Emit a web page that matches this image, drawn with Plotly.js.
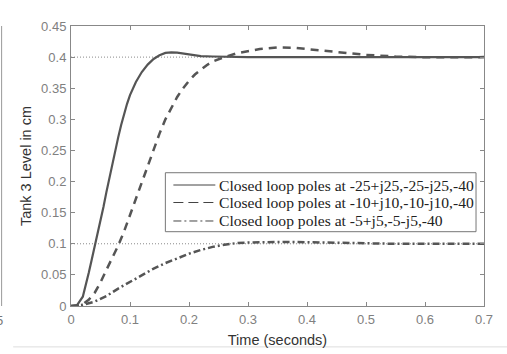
<!DOCTYPE html>
<html>
<head>
<meta charset="utf-8">
<script src="https://cdn.plot.ly/plotly-3.0.1.min.js"></script>
<style>html,body{margin:0;padding:0;background:#fff;}#chart{width:507px;height:354px;}</style>
</head>
<body>
<div id="chart"></div>
<script>
// Time values (seconds) and tank-3 level (cm)
var tSolid = [0,0.01,0.02,0.025,0.03,0.035,0.04,0.045,0.05,0.055,0.06,0.065,0.07,0.075,0.08,0.085,0.09,0.095,0.10,0.105,0.11,0.12,0.13,0.14,0.15,0.16,0.165,0.17,0.18,0.19,0.20,0.21,0.22,0.24,0.26,0.30,0.40,0.50,0.60,0.70];
var ySolid = [0,0.001,0.015,0.032,0.053,0.074,0.095,0.113,0.135,0.159,0.183,0.206,0.229,0.250,0.271,0.291,0.309,0.325,0.339,0.350,0.360,0.376,0.388,0.397,0.403,0.4068,0.4075,0.4077,0.4072,0.406,0.404,0.4025,0.4015,0.4010,0.4003,0.400,0.400,0.400,0.400,0.400];

var tDash = [0,0.01,0.02,0.03,0.04,0.05,0.06,0.07,0.08,0.09,0.10,0.11,0.12,0.13,0.14,0.15,0.16,0.17,0.18,0.19,0.20,0.21,0.22,0.23,0.24,0.25,0.26,0.28,0.30,0.32,0.35,0.38,0.40,0.45,0.50,0.55,0.60,0.65,0.70];
var yDash = [0,0.0005,0.003,0.01,0.021,0.038,0.058,0.077,0.097,0.12,0.146,0.173,0.20,0.226,0.252,0.277,0.30,0.319,0.336,0.35,0.362,0.372,0.38,0.387,0.393,0.397,0.40,0.406,0.410,0.413,0.4155,0.415,0.413,0.408,0.4035,0.401,0.3997,0.3998,0.400];

var tDashDot = [0,0.02,0.04,0.06,0.08,0.10,0.12,0.14,0.16,0.18,0.20,0.22,0.24,0.26,0.28,0.30,0.33,0.36,0.40,0.45,0.50,0.55,0.60,0.70];
var yDashDot = [0,0.002,0.007,0.016,0.028,0.039,0.050,0.060,0.069,0.077,0.084,0.090,0.095,0.0985,0.101,0.102,0.103,0.103,0.1025,0.1015,0.1005,0.100,0.100,0.100];

var refLevels = [0.4, 0.1];
var tRange = [0, 0.7];

var legendNames = [
  "Closed loop poles at -25+j25,-25-j25,-40",
  "Closed loop poles at -10+j10,-10-j10,-40",
  "Closed loop poles at -5+j5,-5-j5,-40"
];

var xTicks = [0,0.1,0.2,0.3,0.4,0.5,0.6,0.7];
var xTickText = ["0","0.1","0.2","0.3","0.4","0.5","0.6","0.7"];
var yTicks = [0,0.05,0.1,0.15,0.2,0.25,0.3,0.35,0.4,0.45];
var yTickText = ["0","0.05","0.1","0.15","0.2","0.25","0.3","0.35","0.4","0.45"];

var curveColor = "#555555";
var traces = [];

refLevels.forEach(function(lv){
  traces.push({x: tRange, y: [lv, lv], mode: "lines", showlegend: false, hoverinfo: "skip",
    line: {color: "#8a8a8a", width: 1, dash: "1px,2px"}});
});

var series = [[tSolid, ySolid], [tDash, yDash], [tDashDot, yDashDot]];
var curveWidth = [2.2, 2.5, 2.5];
var curveDash = ["solid", "8px,6px", "7px,3px,2px,3px"];
series.forEach(function(s, i){
  traces.push({x: s[0], y: s[1], mode: "lines", name: legendNames[i], showlegend: false,
    line: {color: curveColor, width: curveWidth[i], dash: curveDash[i]}});
});

// Legend drawn as box + sample lines + real text (layout positions in paper units)
var legBox = {x0: 0.2285, x1: 0.9807, y0: 0.2654, y1: 0.476};
var legRowsY = [0.4321, 0.3696, 0.3036];
var legSampleX = [0.2479, 0.3495];
var legTextX = 0.3543;
var legDash = ["solid", "10px,5px", "8px,3px,2px,3px"];

var shapes = [
  {type: "rect", xref: "paper", yref: "paper", x0: legBox.x0, x1: legBox.x1, y0: legBox.y0, y1: legBox.y1,
    fillcolor: "#fff", line: {color: "#777", width: 1}, layer: "above"},
  {type: "line", xref: "paper", yref: "paper", x0: -0.168, x1: -0.168, y0: 0, y1: 1,
    line: {color: "#999", width: 1}},
  {type: "line", xref: "paper", yref: "paper", x0: -0.14, x1: 1.06, y0: -0.146, y1: -0.146,
    line: {color: "#ddd", width: 1}}
];
var annotations = [
  {xref: "paper", yref: "paper", x: -0.172, y: -0.05, text: "5", showarrow: false,
    xanchor: "center", yanchor: "middle", font: {size: 13, color: "#777"}}
];
legendNames.forEach(function(nm, i){
  shapes.push({type: "line", xref: "paper", yref: "paper", x0: legSampleX[0], x1: legSampleX[1],
    y0: legRowsY[i], y1: legRowsY[i], line: {color: "#444", width: 1, dash: legDash[i]}, layer: "above"});
  annotations.push({xref: "paper", yref: "paper", x: legTextX, y: legRowsY[i], text: nm, showarrow: false,
    xanchor: "left", yanchor: "middle",
    font: {family: "Liberation Serif, Times New Roman, serif", size: 15.6, color: "#222"}});
});

var layout = {
  width: 507, height: 354,
  margin: {l: 70.5, r: 23, t: 26, b: 48},
  paper_bgcolor: "#fff", plot_bgcolor: "#fff",
  font: {family: "Liberation Sans, Arial, sans-serif", color: "#808080", size: 13},
  showlegend: false,
  xaxis: {
    range: tRange, tickvals: xTicks, ticktext: xTickText,
    ticks: "inside", ticklen: 4, tickcolor: "#888", mirror: "ticks",
    showline: true, linecolor: "#888", linewidth: 1, showgrid: false, zeroline: false,
    tickfont: {size: 13, color: "#808080"}, ticklabelstandoff: 1,
    title: {text: "Time (seconds)", font: {size: 14.5, color: "#333"}, standoff: 9}
  },
  yaxis: {
    range: [0, 0.45], tickvals: yTicks, ticktext: yTickText,
    ticks: "inside", ticklen: 4, tickcolor: "#888", mirror: "ticks",
    showline: true, linecolor: "#888", linewidth: 1, showgrid: false, zeroline: false,
    tickfont: {size: 13, color: "#808080"}, ticklabelstandoff: 1,
    title: {text: "Tank 3 Level in cm", font: {size: 14.5, color: "#333"}, standoff: 6}
  },
  shapes: shapes,
  annotations: annotations
};

Plotly.newPlot("chart", traces, layout, {displayModeBar: false, staticPlot: true});
</script>
</body>
</html>
